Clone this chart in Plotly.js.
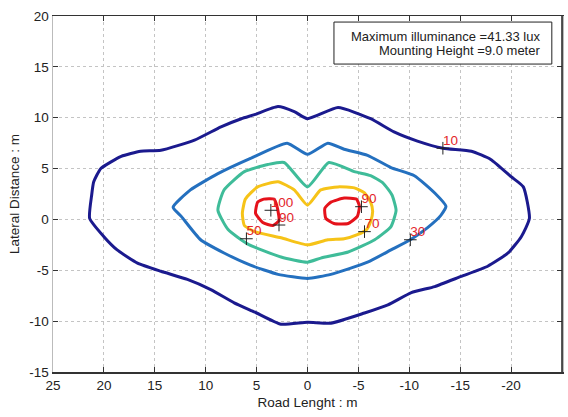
<!DOCTYPE html>
<html>
<head>
<meta charset="utf-8">
<script src="https://cdn.plot.ly/plotly-3.0.1.min.js"></script>
<style>html,body{margin:0;padding:0;background:#fff}#chart{width:568px;height:417px}</style>
</head>
<body>
<div id="chart"></div>
<script>
// Contour level 10 lux
const x10 = [0.0,1.3,2.9,5.2,6.5,8.5,11.1,14.4,16.4,18.3,20.3,21.0,21.2,21.4,20.0,18.7,16.7,14.4,11.8,9.5,7.2,5.2,2.6,0.0,-2.3,-5.6,-7.9,-10.2,-12.5,-15.1,-17.7,-19.7,-21.0,-21.8,-21.2,-20.0,-18.0,-16.1,-13.3,-10.8,-8.5,-6.2,-3.0,0.0];
const y10 = [9.9,10.6,11.1,10.3,9.9,9.1,7.8,6.8,6.7,6.2,5.0,3.7,2.4,0.1,-1.7,-3.0,-4.3,-5.1,-5.9,-6.9,-8.2,-9.1,-10.3,-10.1,-10.2,-9.2,-8.4,-7.2,-6.6,-5.6,-4.6,-3.3,-1.7,0.1,3.2,4.2,5.9,6.7,7.0,7.7,8.6,9.9,11.0,9.9];
// Contour level 30 lux
const x30 = [0.0,2.0,5.6,8.8,11.5,13.2,12.4,10.5,8.2,5.6,2.9,0.0,-2.3,-5.9,-8.2,-10.1,-11.8,-13.1,-13.6,-12.5,-10.5,-8.2,-5.9,-3.6,-2.0,0.0];
const y30 = [6.4,7.5,6.0,4.5,2.9,1.2,0.3,-2.0,-3.3,-4.5,-5.4,-5.8,-5.4,-4.2,-3.0,-2.0,-0.8,0.4,1.3,2.6,4.3,5.1,6.3,6.9,7.5,6.4];
// Contour level 50 lux
const x50 = [0.0,2.3,3.9,6.2,8.2,8.8,7.8,5.9,2.6,0.0,-1.3,-4.0,-6.6,-8.2,-8.7,-8.3,-7.4,-6.2,-4.6,-2.1,0.0];
const y50 = [3.2,5.6,5.4,4.7,2.9,0.9,-1.0,-2.4,-3.7,-4.2,-3.8,-3.2,-2.0,-0.7,0.9,2.4,3.6,4.3,4.7,5.6,3.2];
// Contour level 70 lux
const x70 = [0.0,1.3,2.9,4.9,6.1,6.4,6.2,5.2,2.6,0.0,-2.0,-3.6,-4.9,-5.8,-6.2,-6.4,-6.2,-5.6,-4.6,-3.0,-1.3,0.0];
const y70 = [1.4,2.9,3.7,3.2,2.0,0.6,-0.6,-1.2,-1.8,-2.5,-2.0,-1.9,-1.5,-1.0,-0.2,0.8,1.7,2.6,3.1,3.2,2.9,1.4];
// Contour level 90 lux (two islands)
const x90a = [4.9,4.3,3.3,3.0,2.8,3.4,4.4,5.1,4.9];
const y90a = [1.7,2.0,2.0,1.3,-0.1,-0.6,-0.3,0.6,1.7];
const x90b = [-1.7,-2.3,-3.6,-4.8,-5.1,-4.9,-4.0,-2.6,-1.8,-1.7];
const y90b = [1.1,1.7,2.1,2.0,1.3,0.3,-0.4,-0.4,0.1,1.1];
// Contour labels
const labelText = ["10","30","50","70","90","100","90"];
const labelX = [-13.3,-10.1,6.0,-5.6,-5.3,3.6,2.8];
const labelY = [7.0,-2.0,-1.9,-1.2,1.25,0.9,-0.55];
// Info box
const infoLines = ["Maximum illuminance =41.33 lux","Mounting Height =9.0 meter"];
const xTicks = [25,20,15,10,5,0,-5,-10,-15,-20,-25];
const yTicks = [-15,-10,-5,0,5,10,15,20];

const FONT = 'Arial, "Liberation Sans", sans-serif';
function contour(x, y, color) {
  return {x: x, y: y, type: 'scatter', mode: 'lines', hoverinfo: 'skip',
          line: {color: color, width: 3, shape: 'spline', smoothing: 0.5}, showlegend: false};
}
const data = [
  contour(x10, y10, '#1b1a8e'),
  contour(x30, y30, '#2470bf'),
  contour(x50, y50, '#3fbc99'),
  contour(x70, y70, '#f6c318'),
  contour(x90a, y90a, '#e5121b'),
  contour(x90b, y90b, '#e5121b'),
  {x: labelX, y: labelY, type: 'scatter', mode: 'markers', showlegend: false,
   marker: {symbol: 'cross-thin-open', size: 9, line: {color: '#222', width: 1}, color: '#222'}},
  {x: labelX, y: labelY, text: labelText, type: 'scatter', mode: 'text',
   textposition: 'top right', showlegend: false,
   textfont: {family: FONT, size: 13.5, color: '#e3262b'}}
];
const layout = {
  width: 568, height: 417,
  margin: {l: 53, r: 6, t: 16, b: 45},
  paper_bgcolor: '#fff', plot_bgcolor: '#fff',
  font: {family: FONT, size: 13.5, color: '#222'},
  showlegend: false,
  xaxis: {range: [25, -25], tickvals: xTicks, ticktext: xTicks.map(String),
          ticks: 'inside', ticklen: 5, tickcolor: '#333', showline: true, linecolor: '#333', linewidth: 1.5,
          mirror: 'ticks', showgrid: true, gridcolor: '#c4c4c4', griddash: 'dot', gridwidth: 1,
          zeroline: false, title: {text: 'Road Lenght : m', font: {size: 13.5}, standoff: 6}},
  yaxis: {range: [-15, 20], tickvals: yTicks, ticktext: yTicks.map(String),
          ticks: 'inside', ticklen: 5, tickcolor: '#333', showline: true, linecolor: '#bbb', linewidth: 1.5,
          mirror: 'ticks', showgrid: true, gridcolor: '#c4c4c4', griddash: 'dot', gridwidth: 1,
          zeroline: false, title: {text: 'Lateral Distance : m', font: {size: 13.5}, standoff: 6}},
  shapes: [
    {type: 'line', xref: 'paper', yref: 'paper', x0: 1, x1: 1, y0: 0, y1: 1, line: {color: '#222', width: 1.5}},
    {type: 'rect', xref: 'paper', yref: 'paper', x0: 0.552, x1: 0.980, y0: 0.865, y1: 0.983,
     line: {color: '#222', width: 1}, fillcolor: '#fff'}
  ],
  annotations: [
    {xref: 'paper', yref: 'paper', x: 0.961, y: 0.942, xanchor: 'right', yanchor: 'middle',
     text: infoLines[0], showarrow: false, font: {size: 13, color: '#222'}},
    {xref: 'paper', yref: 'paper', x: 0.961, y: 0.902, xanchor: 'right', yanchor: 'middle',
     text: infoLines[1], showarrow: false, font: {size: 13, color: '#222'}}
  ]
};
Plotly.newPlot('chart', data, layout, {staticPlot: true, displayModeBar: false});
</script>
</body>
</html>
